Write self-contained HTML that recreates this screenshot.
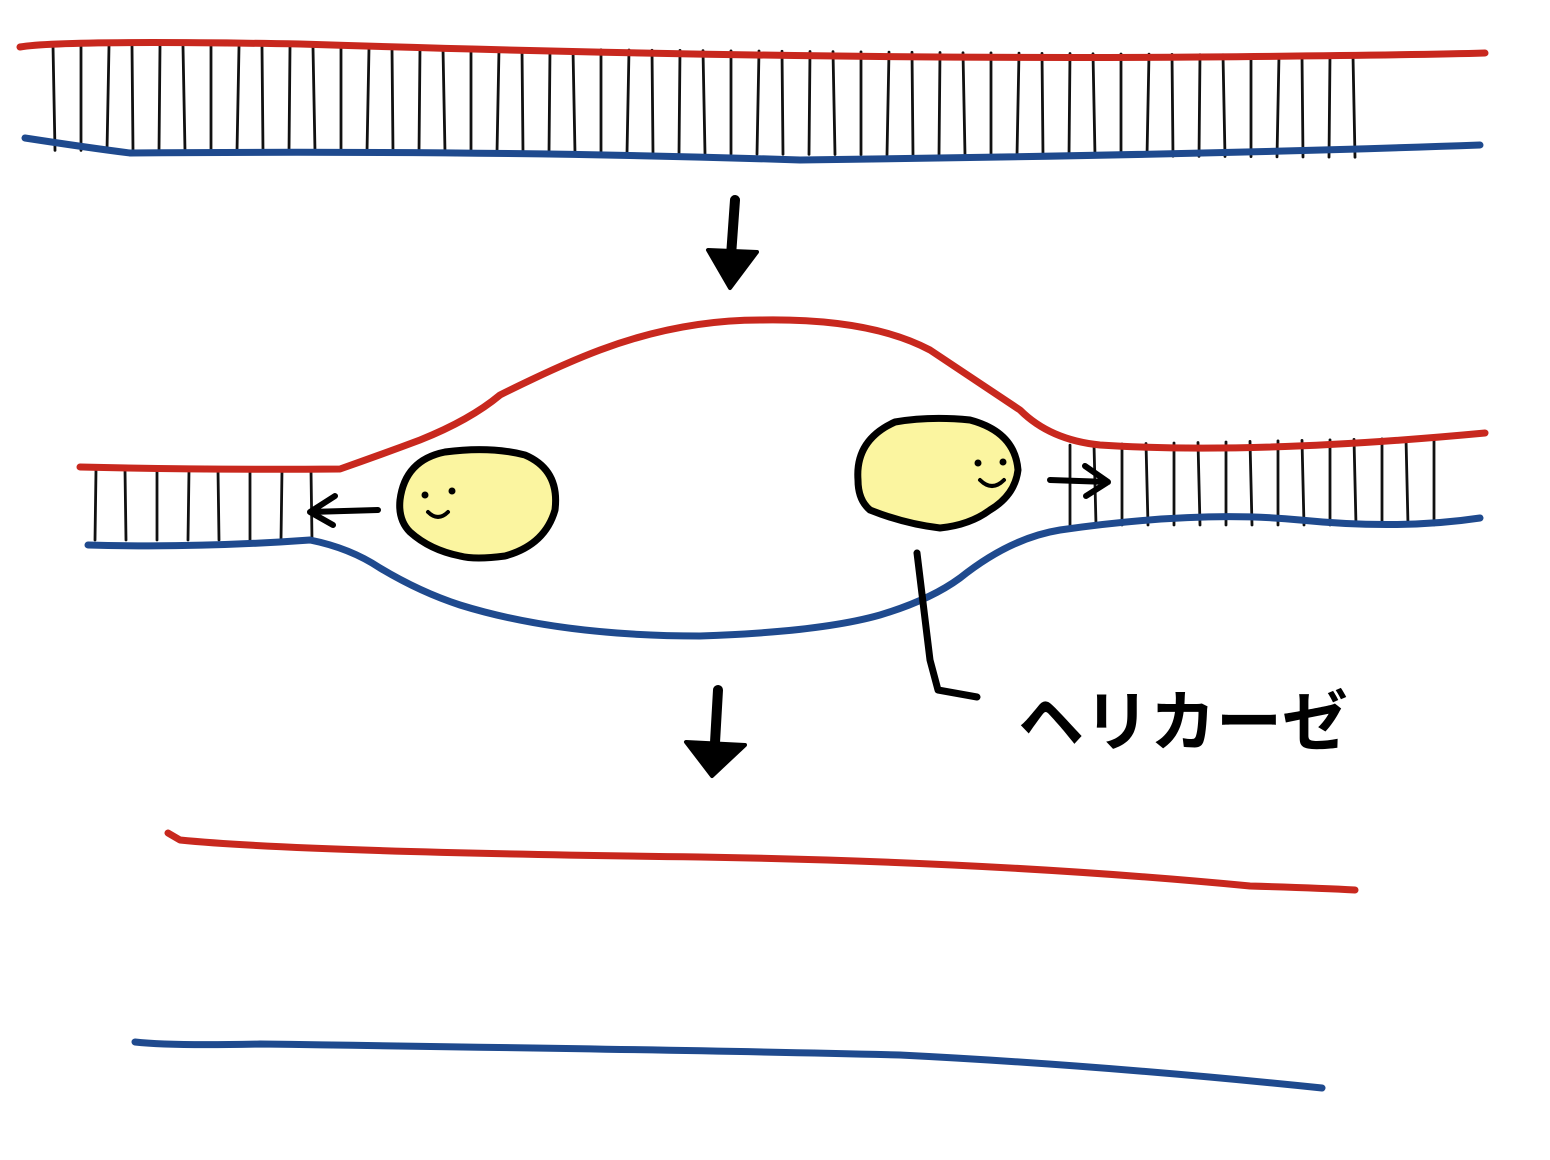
<!DOCTYPE html>
<html><head><meta charset="utf-8"><style>
html,body{margin:0;padding:0;background:#fff;width:1550px;height:1160px;overflow:hidden}
svg{display:block}
</style></head><body>
<svg id="s" width="1550" height="1160" viewBox="0 0 1550 1160" xmlns="http://www.w3.org/2000/svg" fill="none" stroke-linecap="round" stroke-linejoin="round">
<g id="rungs" stroke="#111" stroke-width="2.8"></g>
<path stroke="#c8281e" stroke-width="7" d="M20,47 Q60,40 300,44 Q800,60 1200,57 Q1420,55 1485,53"/>
<path stroke="#1f4a8e" stroke-width="7" d="M25,138 Q90,148 130,153 Q500,150 800,160 Q1200,155 1480,145"/>
<path stroke="#000" stroke-width="10" d="M735,200 L730,270"/>
<path fill="#000" stroke="#000" stroke-width="4" d="M708,250 L757,252 L730,288 Z"/>
<path stroke="#c8281e" stroke-width="7" d="M80,467 Q200,470 340,469 Q380,455 420,440 Q470,420 500,395 Q560,365 600,350 Q680,320 760,320 Q870,318 930,350 Q990,390 1020,410 Q1050,440 1100,445 Q1250,455 1485,433"/>
<path stroke="#1f4a8e" stroke-width="7" d="M88,545 Q200,548 310,540 Q350,548 380,568 Q420,592 460,605 Q560,636 700,636 Q820,632 880,615 Q930,600 960,578 Q1010,538 1060,530 Q1200,510 1300,520 Q1400,530 1480,518"/>
<g>
<path fill="#fbf5a0" stroke="#000" stroke-width="7" d="M400,500 Q405,460 445,452 Q490,446 525,455 Q560,470 555,510 Q545,545 505,556 Q475,560 460,556 Q430,550 410,532 Q398,520 400,500 Z"/>
<circle cx="425" cy="495" r="3.5" fill="#000" stroke="none"/><circle cx="452" cy="491" r="3.5" fill="#000" stroke="none"/>
<path stroke="#000" stroke-width="4" d="M428,512 Q438,522 448,512"/>
</g>
<g>
<path fill="#fbf5a0" stroke="#000" stroke-width="7" d="M858,480 Q855,440 895,422 Q930,416 970,420 Q1015,432 1018,470 Q1015,495 990,510 Q970,525 940,528 Q905,524 870,510 Q858,500 858,480 Z"/>
<circle cx="978" cy="463" r="3.5" fill="#000" stroke="none"/><circle cx="1003" cy="462" r="3.5" fill="#000" stroke="none"/>
<path stroke="#000" stroke-width="4" d="M980,480 Q992,492 1004,480"/>
</g>
<path stroke="#000" stroke-width="6" d="M378,510 L310,512 M335,496 L310,512 L333,525"/>
<path stroke="#000" stroke-width="6" d="M1050,480 L1108,482 M1085,466 L1108,482 L1086,496"/>
<path stroke="#000" stroke-width="7" d="M917,553 L930,660 L938,690 L977,697"/>
<text x="1018" y="745" font-family="'Liberation Sans','Noto Sans CJK JP',sans-serif" font-size="66" font-weight="bold" fill="#000" stroke="none">ヘリカーゼ</text>
<path stroke="#000" stroke-width="10" d="M718,690 L714,760"/>
<path fill="#000" stroke="#000" stroke-width="4" d="M686,742 L745,745 L712,776 Z"/>
<path stroke="#c8281e" stroke-width="7" d="M168,833 L180,840 Q300,852 700,857 Q1000,862 1250,886 Q1320,888 1355,890"/>
<path stroke="#1f4a8e" stroke-width="7" d="M135,1042 Q170,1046 260,1044 Q700,1050 900,1055 Q1100,1065 1322,1088"/>
</svg>
<script>
var g=document.getElementById('rungs');
function rung(x,y1,y2,tilt){
var l=document.createElementNS('http://www.w3.org/2000/svg','line');
l.setAttribute('x1',x+tilt);l.setAttribute('y1',y1);l.setAttribute('x2',x);l.setAttribute('y2',y2);


g.appendChild(l);}
for(var x=55;x<=1375;x+=26){var t=((x*7)%5)-2;rung(x,45+(x/1500)*12,150+(x/1500)*8,t);}
for(var x=95;x<=340;x+=31){rung(x,470,540,(x%3)-1);}
for(var x=1070;x<=1440;x+=26){rung(x,445-(x-1075)*0.02,525,(x%4)-2);}
</script>
</body></html>
